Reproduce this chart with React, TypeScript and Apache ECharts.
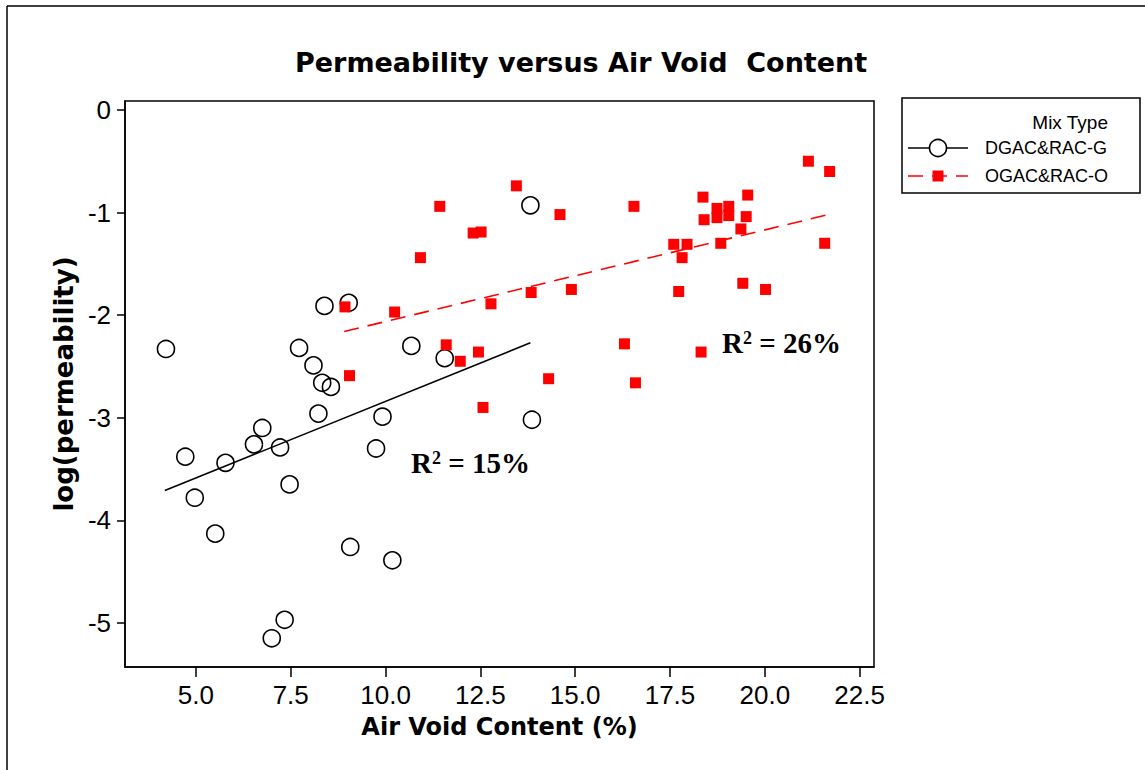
import React, { useEffect, useRef } from "react";
import * as echarts from "echarts";

const titleText = "Permeability versus Air Void  Content";
const xName = "Air Void Content (%)";
const yName = "log(permeability)";
const legendTitle = "Mix Type";
const groupNames = ["DGAC&RAC-G", "OGAC&RAC-O"];

const xTicks = [5, 7.5, 10, 12.5, 15, 17.5, 20, 22.5];
const yTicks = [0, -1, -2, -3, -4, -5];

// DGAC&RAC-G (open circles)
const dgacX = [4.21, 4.72, 4.97, 5.51, 5.78, 6.53, 6.75, 7.0, 7.22, 7.34, 7.47, 7.72, 8.1, 8.23, 8.33, 8.39, 8.56, 9.03, 9.07, 9.75, 9.92, 10.18, 10.68, 11.56, 13.82, 13.86];
const dgacY = [-2.33, -3.38, -3.78, -4.13, -3.44, -3.26, -3.1, -5.15, -3.29, -4.97, -3.65, -2.32, -2.49, -2.96, -2.66, -1.91, -2.7, -1.88, -4.26, -3.3, -2.99, -4.39, -2.3, -2.42, -0.93, -3.02];

// OGAC&RAC-O (red squares)
const ogacX = [8.93, 9.05, 10.24, 10.92, 11.43, 11.6, 11.97, 12.31, 12.45, 12.52, 12.57, 12.78, 13.45, 13.84, 14.3, 14.6, 14.9, 16.3, 16.55, 16.59, 17.6, 17.73, 17.82, 17.95, 18.32, 18.37, 18.4, 18.74, 18.74, 18.84, 19.05, 19.05, 19.37, 19.42, 19.51, 19.55, 20.02, 21.15, 21.58, 21.71];
const ogacY = [-1.92, -2.59, -1.97, -1.44, -0.94, -2.29, -2.45, -1.2, -2.36, -1.19, -2.9, -1.89, -0.74, -1.78, -2.62, -1.02, -1.75, -2.28, -0.94, -2.66, -1.31, -1.77, -1.44, -1.31, -2.36, -0.85, -1.07, -0.96, -1.05, -1.3, -0.94, -1.03, -1.16, -1.69, -1.04, -0.83, -1.75, -0.5, -1.3, -0.6];

// fitted lines (end points)
const dgacFitX = [4.18, 13.82];
const dgacFitY = [-3.71, -2.27];
const ogacFitX = [8.91, 21.68];
const ogacFitY = [-2.16, -1.02];

const r2Labels = ["15%", "26%"];

const zip = (xs: number[], ys: number[]) => xs.map((x, i) => [x, ys[i]]);

export default function App() {
  const ref = useRef<HTMLDivElement>(null);
  useEffect(() => {
    if (!ref.current) return;
    const chart = echarts.init(ref.current, null, { renderer: "svg" });
    const tickFont = "'Liberation Sans', Arial, sans-serif";
    const boldFont = "'DejaVu Sans', Verdana, sans-serif";
    const serif = "'Liberation Serif', 'Times New Roman', serif";
    const lx = 902, ly = 98;
    const r2Rich = {
      r: { fontFamily: serif, fontWeight: "bold", fontSize: 29, fill: "#000" },
      s: { fontFamily: serif, fontWeight: "bold", fontSize: 18, fill: "#000", verticalAlign: "top" },
    };
    chart.setOption({
      animation: false,
      backgroundColor: "#fff",
      title: {
        text: titleText,
        left: 290,
        top: 44,
        textStyle: { fontFamily: boldFont, fontWeight: "bold", fontSize: 27, color: "#000" },
      },
      grid: {
        left: 125,
        right: 271,
        top: 101,
        bottom: 103,
        show: true,
        borderColor: "#000",
        borderWidth: 1.5,
        backgroundColor: "transparent",
      },
      xAxis: {
        type: "value",
        min: 3.13,
        max: 22.88,
        name: xName,
        nameLocation: "middle",
        nameGap: 48,
        nameTextStyle: { fontFamily: boldFont, fontWeight: "bold", fontSize: 24, color: "#000" },
        axisLine: { show: true, onZero: false, lineStyle: { color: "#000", width: 1.5 } },
        axisTick: { show: true, length: 10, customValues: xTicks, lineStyle: { color: "#000", width: 1.5 } },
        axisLabel: {
          customValues: xTicks,
          formatter: (v: number) => v.toFixed(1),
          fontFamily: tickFont,
          fontSize: 26,
          color: "#000",
          margin: 15,
        },
        splitLine: { show: false },
      },
      yAxis: {
        type: "value",
        min: -5.43,
        max: 0.087,
        name: yName,
        nameLocation: "middle",
        nameGap: 47,
        nameTextStyle: { fontFamily: boldFont, fontWeight: "bold", fontSize: 26, color: "#000" },
        axisLine: { show: true, onZero: false, lineStyle: { color: "#000", width: 1.5 } },
        axisTick: { show: true, length: 8, customValues: yTicks, lineStyle: { color: "#000", width: 1.5 } },
        axisLabel: {
          customValues: yTicks,
          formatter: (v: number) => String(v),
          fontFamily: tickFont,
          fontSize: 26,
          color: "#000",
          margin: 14,
        },
        splitLine: { show: false },
      },
      series: [
        {
          name: groupNames[0],
          type: "scatter",
          data: zip(dgacX, dgacY),
          symbol: "circle",
          symbolSize: 17,
          itemStyle: { color: "rgba(0,0,0,0)", borderColor: "#000", borderWidth: 1.6, opacity: 1 },
          z: 2,
        },
        {
          name: groupNames[1],
          type: "scatter",
          data: zip(ogacX, ogacY),
          symbol: "rect",
          symbolSize: 11,
          itemStyle: { color: "#ff0000", opacity: 1 },
          z: 3,
        },
        {
          name: groupNames[0] + " fit",
          type: "line",
          data: zip(dgacFitX, dgacFitY),
          showSymbol: false,
          symbol: "none",
          lineStyle: { color: "#000", width: 1.6 },
          z: 4,
        },
        {
          name: groupNames[1] + " fit",
          type: "line",
          data: zip(ogacFitX, ogacFitY),
          showSymbol: false,
          symbol: "none",
          lineStyle: { color: "#ff0000", width: 1.6, type: [15, 9] },
          z: 4,
        },
      ],
      graphic: [
        { type: "line", shape: { x1: 7, y1: 6, x2: 1145, y2: 6 }, style: { stroke: "#000", lineWidth: 1.5 } },
        { type: "line", shape: { x1: 7, y1: 6, x2: 7, y2: 770 }, style: { stroke: "#000", lineWidth: 1.5 } },
        {
          type: "text",
          x: 411,
          y: 463,
          style: { text: "{r|R}{s|2}{r| = " + r2Labels[0] + "}", verticalAlign: "middle", rich: r2Rich },
        },
        {
          type: "text",
          x: 722,
          y: 343,
          style: { text: "{r|R}{s|2}{r| = " + r2Labels[1] + "}", verticalAlign: "middle", rich: r2Rich },
        },
        // legend
        { type: "rect", shape: { x: lx, y: ly, width: 238, height: 95 }, style: { fill: "#fff", stroke: "#000", lineWidth: 1.5 } },
        {
          type: "text",
          x: 1108,
          y: 122,
          style: { text: legendTitle, align: "right", verticalAlign: "middle", fontFamily: tickFont, fontSize: 19, fill: "#000" },
        },
        { type: "line", shape: { x1: 908, y1: 148, x2: 968, y2: 148 }, style: { stroke: "#000", lineWidth: 1.5 } },
        { type: "circle", shape: { cx: 938, cy: 148, r: 8.5 }, style: { fill: "#fff", stroke: "#000", lineWidth: 1.6 } },
        {
          type: "text",
          x: 985,
          y: 148,
          style: { text: groupNames[0], verticalAlign: "middle", fontFamily: tickFont, fontSize: 18, fill: "#000" },
        },
        { type: "line", shape: { x1: 908, y1: 176, x2: 968, y2: 176 }, style: { stroke: "#ff0000", lineWidth: 1.5, lineDash: [15, 9] } },
        { type: "rect", shape: { x: 932.5, y: 170.5, width: 11, height: 11 }, style: { fill: "#ff0000" } },
        {
          type: "text",
          x: 985,
          y: 176,
          style: { text: groupNames[1], verticalAlign: "middle", fontFamily: tickFont, fontSize: 18, fill: "#000" },
        },
      ],
    });
    return () => chart.dispose();
  }, []);
  return <div ref={ref} style={{ position: "fixed", left: 0, top: 0, width: 1145, height: 770 }} />;
}
